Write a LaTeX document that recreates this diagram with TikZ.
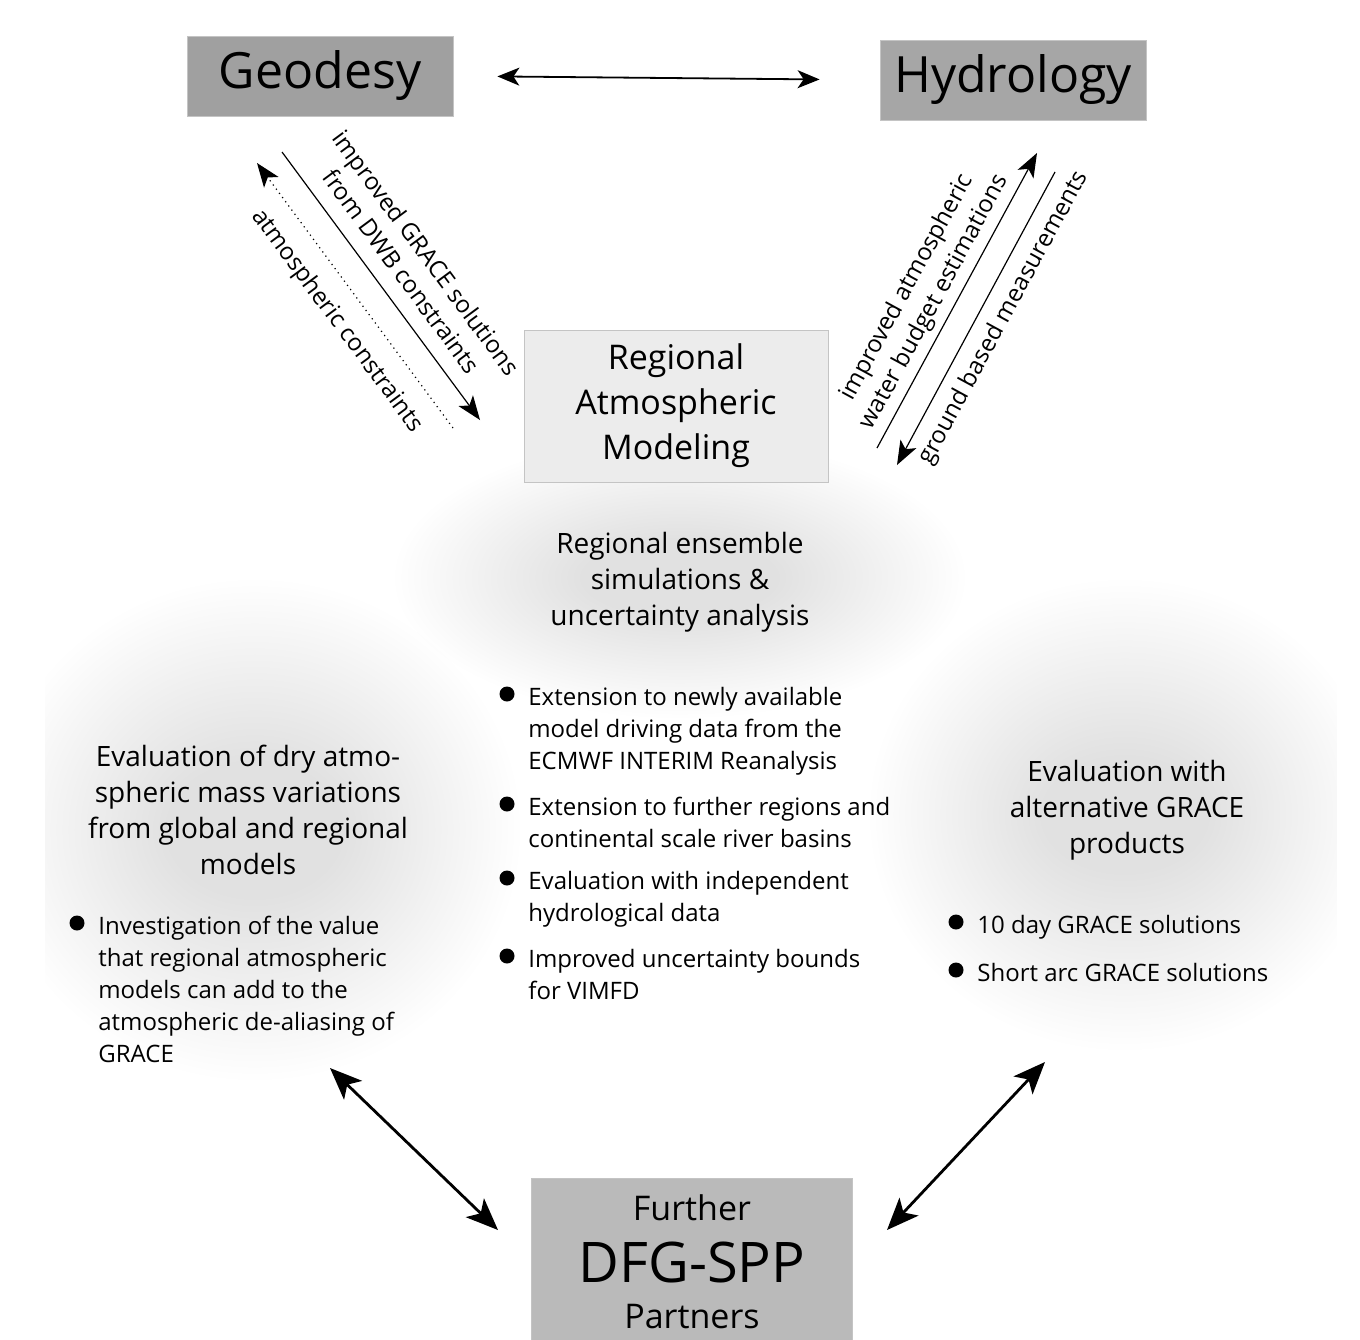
\documentclass[tikz,border=0pt]{standalone}
\usepackage{fontspec}
\setmainfont{Open Sans}
\usetikzlibrary{arrows.meta}

\definecolor{geobox}{HTML}{A0A0A0}
\definecolor{hydbox}{HTML}{A6A6A6}
\definecolor{rambox}{HTML}{ECECEC}
\definecolor{dfgbox}{HTML}{BABABA}
\definecolor{boxline}{HTML}{C4C4C4}

% soft grey blob: #1 centre, #2/#3 outer radii, #4/#5 inner radii
\newcommand{\softblob}[5]{%
  \foreach \k in {0,...,29}
    \fill[black, opacity=0.0055] #1 ellipse ({#2-\k*(#2-#4)/29} and {#3-\k*(#3-#5)/29});
}

\tikzset{
  discipline/.style={draw=boxline, minimum width=133pt, minimum height=40pt, inner sep=0pt},
  headline/.style={align=center, font=\fontsize{14}{18}\selectfont},
  itemtext/.style={anchor=north west, align=left, inner sep=0pt, font=\fontsize{12}{16}\selectfont},
  flowlabel/.style={align=center, font=\fontsize{12}{15.5}\selectfont},
}

\begin{document}
\begin{tikzpicture}[x=0.5pt, y=-0.5pt, >={Stealth[length=11pt, width=9pt, inset=3pt]}]
  \useasboundingbox (0,0) rectangle (1360,1339);

  % background blobs
  \softblob{(680,578)}{285}{140}{100}{40}
  \begin{scope}
    \clip (45,560) rectangle (1337,1080);
    \softblob{(255,830)}{265}{250}{90}{70}
    \softblob{(1125,815)}{255}{235}{85}{60}
  \end{scope}

  % boxes
  \node[discipline, fill=geobox, font=\fontsize{25}{30}\selectfont] (geo) at (320,76) {Geodesy};
  \node[discipline, fill=hydbox, font=\fontsize{25}{30}\selectfont] (hyd) at (1013,80) {Hydrology};
  \node[draw=boxline, fill=rambox, minimum width=152pt, minimum height=76pt, align=center,
        font=\fontsize{17}{22.5}\selectfont] (ram) at (676,406) {Regional\\Atmospheric\\Modeling};
  \node[draw=boxline, fill=dfgbox, minimum width=160.5pt, minimum height=84pt, align=center,
        inner sep=0pt] (dfg) at (692,1262)
        {\fontsize{17}{20}\selectfont Further\\[9.5pt]
         \fontsize{28}{30}\selectfont DFG-SPP\\[9.5pt]
         \fontsize{17}{20}\selectfont Partners};

  % top connection
  \draw[<->, line width=0.9pt, shorten <=22pt, shorten >=30pt] (geo.east) -- (hyd.west);

  % geodesy <-> regional modeling
  \coordinate (gsa) at (282,152);
  \coordinate (gsb) at (480,420);
  \coordinate (gda) at (453,428);
  \coordinate (gdb) at (257,163);
  \draw[->, line width=0.6pt, >={Stealth[length=12pt, width=9pt, inset=3pt]}] (gsa) -- (gsb);
  \draw[->, dotted, line width=0.6pt, >={Stealth[length=12pt, width=9pt, inset=3pt]}] (gda) -- (gdb);
  \node[flowlabel, rotate=-53.5] (glab) at (414,262) {improved GRACE solutions\\from DWB constraints};
  \node[flowlabel, rotate=-53.5] (alab) at (337,321) {atmospheric constraints};

  % hydrology <-> regional modeling
  \coordinate (hua) at (877,448);
  \coordinate (hub) at (1037,153);
  \coordinate (hda) at (1055,172);
  \coordinate (hdb) at (897,465);
  \draw[->, line width=0.6pt, >={Stealth[length=12pt, width=9pt, inset=3pt]}] (hua) -- (hub);
  \draw[->, line width=0.6pt, >={Stealth[length=12pt, width=9pt, inset=3pt]}] (hda) -- (hdb);
  \node[flowlabel, rotate=61.5] (wlab) at (921,295) {improved atmospheric\\water budget estimations};
  \node[flowlabel, rotate=61.5] (mlab) at (1004,318) {ground based measurements};

  % centre work package
  \node[headline] (ens) at (680,582) {Regional ensemble\\simulations \&\\uncertainty analysis};
  \node[itemtext] (c1) at (528,687) {Extension to newly available\\model driving data from the\\ECMWF INTERIM Reanalysis};
  \node[itemtext] (c2) at (528,797) {Extension to further regions and\\continental scale river basins};
  \node[itemtext] (c3) at (528,871) {Evaluation with independent\\hydrological data};
  \node[itemtext] (c4) at (528,949) {Improved uncertainty bounds\\for VIMFD};

  % left work package
  \node[headline] (dry) at (248,810) {Evaluation of dry atmo-\\spheric mass variations\\from global and regional\\models};
  \node[itemtext] (l1) at (98,916) {Investigation of the value\\that regional atmospheric\\models can add to the\\atmospheric de-aliasing of\\GRACE};

  % right work package
  \node[headline] (alt) at (1127,810) {Evaluation with\\alternative GRACE\\products};
  \node[itemtext] (r1) at (977,915) {10 day GRACE solutions};
  \node[itemtext] (r2) at (977,963) {Short arc GRACE solutions};

  \foreach \n in {c1,c2,c3,c4,l1,r1,r2}
    \fill ([shift={(-21,7)}]\n.north west) circle (7.5);

  % links to the partners
  \coordinate (lpa) at (330,1068);
  \coordinate (lpb) at (498,1230);
  \coordinate (rpa) at (1045,1062);
  \coordinate (rpb) at (887,1230);
  \draw[<->, line width=1.4pt, >={Stealth[length=16pt, width=13pt, inset=4pt]}] (lpa) -- (lpb);
  \draw[<->, line width=1.4pt, >={Stealth[length=16pt, width=13pt, inset=4pt]}] (rpa) -- (rpb);
\end{tikzpicture}
\end{document}
